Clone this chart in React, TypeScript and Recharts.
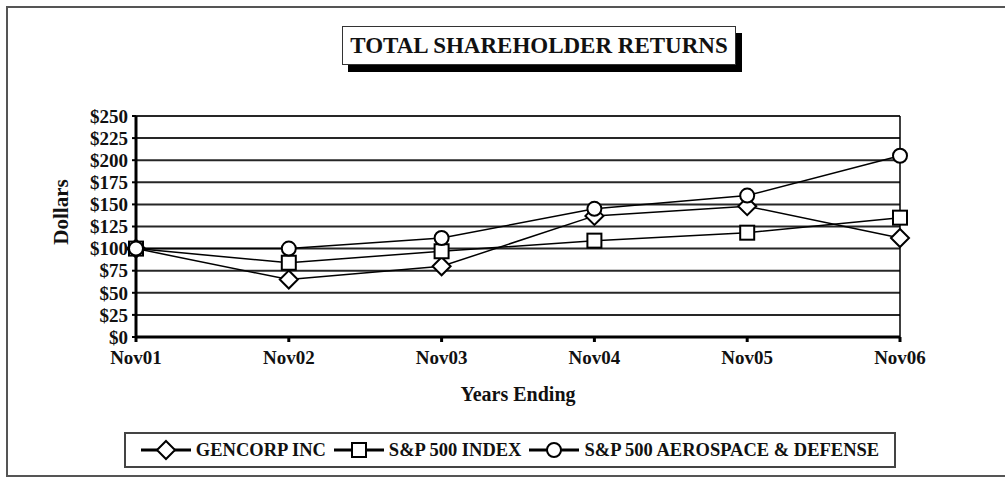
import { LineChart, Line, XAxis, YAxis, CartesianGrid, ReferenceLine, Legend } from 'recharts'

const FONT = "'Liberation Serif', 'Times New Roman', serif"

const YEARS = ['Nov01', 'Nov02', 'Nov03', 'Nov04', 'Nov05', 'Nov06']
const GENCORP = [100, 65, 80, 137, 148, 112]
const SP500 = [100, 84, 97, 109, 118, 135]
const AERO = [100, 100, 112, 145, 160, 205]
const Y_TICKS = [0, 25, 50, 75, 100, 125, 150, 175, 200, 225, 250]

const rows = YEARS.map((year, i) => ({ year, gencorp: GENCORP[i], sp500: SP500[i], aero: AERO[i] }))

const diamond = (cx: number, cy: number, key?: any) => (
  <path key={key} d={`M${cx},${cy - 9} L${cx + 9},${cy} L${cx},${cy + 9} L${cx - 9},${cy} Z`} fill="#fff" stroke="#000" strokeWidth={2} />
)
const square = (cx: number, cy: number, key?: any) => (
  <rect key={key} x={cx - 7} y={cy - 7} width={14} height={14} fill="#fff" stroke="#000" strokeWidth={2} />
)
const circle = (cx: number, cy: number, key?: any) => (
  <circle key={key} cx={cx} cy={cy} r={7} fill="#fff" stroke="#000" strokeWidth={2} />
)

const SERIES = [
  { key: 'gencorp', name: 'GENCORP INC', marker: diamond },
  { key: 'sp500', name: 'S&P 500 INDEX', marker: square },
  { key: 'aero', name: 'S&P 500 AEROSPACE & DEFENSE', marker: circle },
]

function renderLegend() {
  return (
    <div style={{
      display: 'flex', alignItems: 'center', justifyContent: 'center', height: '100%',
      border: '2px solid #444', boxSizing: 'border-box', background: '#fff', fontFamily: FONT,
      fontWeight: 'bold', fontSize: 18.5, color: '#111', gap: 8,
    }}>
      {SERIES.map(s => (
        <div key={s.key} style={{ display: 'flex', alignItems: 'center', gap: 5 }}>
          <svg width={50} height={24}>
            <line x1={0} y1={12} x2={50} y2={12} stroke="#000" strokeWidth={3} />
            {s.marker(25, 12)}
          </svg>
          <span>{s.name}</span>
        </div>
      ))}
    </div>
  )
}

export default function App() {
  return (
    <div style={{ position: 'absolute', left: 0, top: 0, width: 1005, height: 479, background: '#fff', overflow: 'hidden' }}>
      <div style={{ position: 'absolute', left: 6, top: 6, width: 1020, height: 471, border: '2px solid #555', boxSizing: 'border-box' }} />
      <LineChart width={1005} height={479} data={rows} margin={{ top: 116, right: 105, bottom: 102, left: 56 }}>
        <CartesianGrid vertical={false} stroke="#000" strokeWidth={2} strokeOpacity={0.85} horizontalValues={Y_TICKS} />
        <ReferenceLine x="Nov06" stroke="#000" strokeWidth={1.5} />
        <XAxis
          dataKey="year"
          height={40}
          axisLine={{ stroke: '#000', strokeWidth: 3 }}
          tickLine={{ stroke: '#000', strokeWidth: 3 }}
          tickSize={5}
          tickMargin={9}
          tick={{ fill: '#111', fontFamily: FONT, fontWeight: 'bold', fontSize: 19 }}
          interval={0}
          label={{ value: 'Years Ending', position: 'bottom', offset: 10, fill: '#111', fontFamily: FONT, fontWeight: 'bold', fontSize: 20 }}
        />
        <YAxis
          width={80}
          domain={[0, 250]}
          ticks={Y_TICKS}
          interval={0}
          tickFormatter={(v: number) => `$${v}`}
          axisLine={{ stroke: '#000', strokeWidth: 3 }}
          tickLine={{ stroke: '#000', strokeWidth: 2 }}
          tickSize={4}
          tickMargin={4}
          tick={{ fill: '#111', fontFamily: FONT, fontWeight: 'bold', fontSize: 19 }}
          label={{
            content: () => (
              <text transform="translate(61,212) rotate(-90)" textAnchor="middle" dominantBaseline="central"
                fill="#111" fontFamily={FONT} fontWeight="bold" fontSize={21}>Dollars</text>
            ),
          }}
        />
        {SERIES.map(s => (
          <Line
            key={s.key}
            type="linear"
            dataKey={s.key}
            name={s.name}
            stroke="#000"
            strokeWidth={1.5}
            isAnimationActive={false}
            dot={(p: any) => s.marker(p.cx, p.cy, `${s.key}-${p.index}`)}
            activeDot={false}
          />
        ))}
        <Legend
          layout="vertical"
          align="center"
          verticalAlign="middle"
          content={renderLegend}
          wrapperStyle={{ left: 124, top: 432, width: 772, height: 36, bottom: 'auto', right: 'auto' }}
        />
      </LineChart>
      <div style={{
        position: 'absolute', left: 342, top: 26, width: 394, height: 39, border: '1.5px solid #333',
        boxSizing: 'border-box', background: '#fff', boxShadow: '6px 7px 0 #000', display: 'flex',
        alignItems: 'center', justifyContent: 'center', fontFamily: FONT, fontWeight: 'bold', fontSize: 23, color: '#111',
      }}>
        TOTAL SHAREHOLDER RETURNS
      </div>
    </div>
  )
}
